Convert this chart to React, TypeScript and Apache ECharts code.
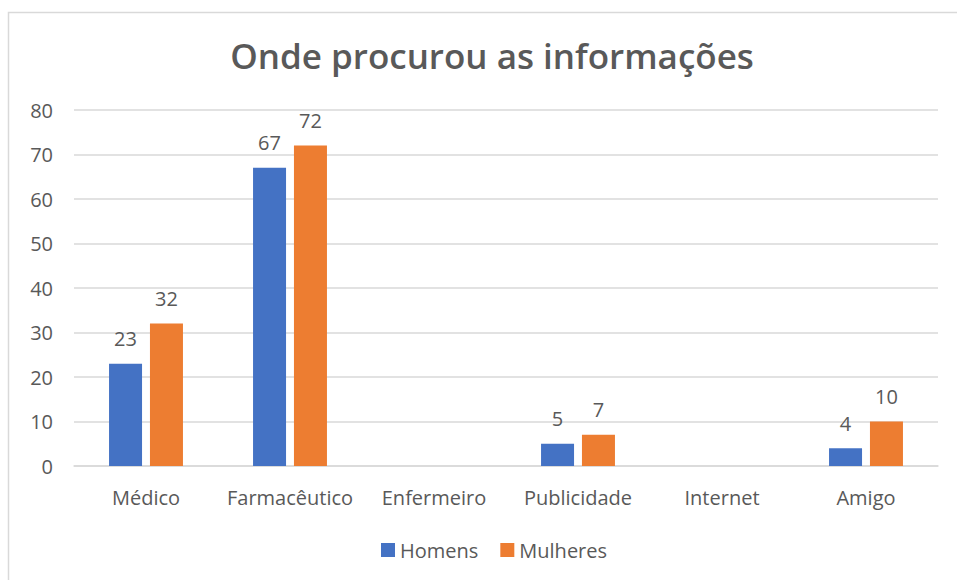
import React, { useEffect, useRef } from "react";
import * as echarts from "echarts";

const categories = ["Médico", "Farmacêutico", "Enfermeiro", "Publicidade", "Internet", "Amigo"];
const homens = [23, 67, null, 5, null, 4];
const mulheres = [32, 72, null, 7, null, 10];
const seriesNames = ["Homens", "Mulheres"];
const yTicks = { min: 0, max: 80, interval: 10 };

const FONT = "'Open Sans', 'Noto Sans', sans-serif";
const GRAY = "#595959";

export default function App() {
  const ref = useRef<HTMLDivElement>(null);
  useEffect(() => {
    if (!ref.current) return;
    const chart = echarts.init(ref.current, null, { renderer: "svg" });
    const label = {
      show: true,
      position: "top",
      distance: 15,
      color: GRAY,
      fontSize: 20,
      fontFamily: FONT,
    };
    chart.setOption({
      animation: false,
      backgroundColor: "#fff",
      textStyle: { fontFamily: FONT },
      graphic: [
        {
          type: "rect",
          shape: { x: 8.5, y: 12.5, width: 960, height: 600 },
          style: { fill: "none", stroke: "#d9d9d9", lineWidth: 1.5 },
          silent: true,
        },
      ],
      title: {
        text: "Onde procurou as informações",
        left: 487,
        textAlign: "center",
        top: 33,
        textStyle: { color: GRAY, fontSize: 35, fontWeight: 600, fontFamily: FONT },
      },
      legend: {
        data: seriesNames,
        top: 535,
        left: 376,
        itemWidth: 14,
        itemHeight: 14,
        itemGap: 22,
        icon: "rect",
        textStyle: { color: GRAY, fontSize: 20, fontFamily: FONT },
      },
      grid: { left: 74, right: 19, top: 110, bottom: 114, containLabel: false },
      xAxis: {
        type: "category",
        data: categories,
        axisLine: { show: true, lineStyle: { color: "#d9d9d9", width: 1.5 } },
        axisTick: { show: false },
        axisLabel: { interval: 0, color: GRAY, fontSize: 20, fontFamily: FONT, margin: 21 },
      },
      yAxis: {
        type: "value",
        min: yTicks.min,
        max: yTicks.max,
        interval: yTicks.interval,
        axisLine: { show: false },
        axisTick: { show: false },
        splitLine: { lineStyle: { color: "#d9d9d9", width: 1.5 } },
        axisLabel: { color: GRAY, fontSize: 20, fontFamily: FONT, margin: 21 },
      },
      series: [
        {
          name: seriesNames[0],
          type: "bar",
          data: homens,
          barWidth: 33,
          barGap: "24%",
          itemStyle: { color: "#4472C4" },
          label,
        },
        {
          name: seriesNames[1],
          type: "bar",
          data: mulheres,
          barWidth: 33,
          barGap: "24%",
          itemStyle: { color: "#ED7D31" },
          label,
        },
      ],
    });
    return () => chart.dispose();
  }, []);
  return (
    <div
      ref={ref}
      style={{ position: "fixed", left: 0, top: 0, width: 957, height: 580 }}
    />
  );
}
